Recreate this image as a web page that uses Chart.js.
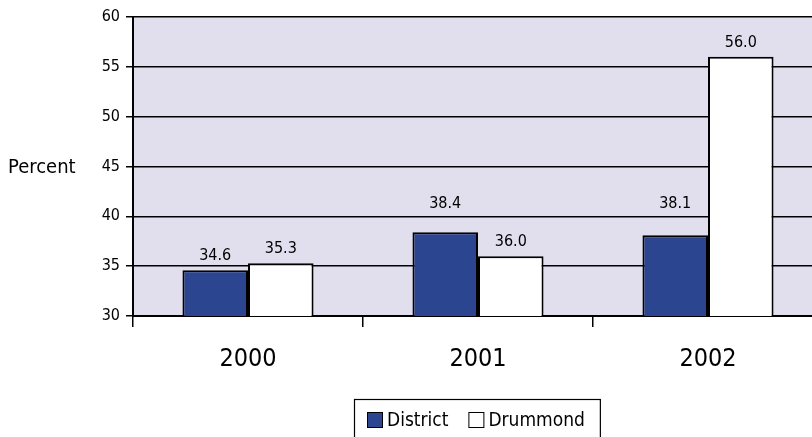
<!DOCTYPE html>
<html>
<head>
<meta charset="utf-8">
<script src="https://cdn.jsdelivr.net/npm/chart.js@4.4.1/dist/chart.umd.min.js"></script>
<style>
  html, body { margin: 0; padding: 0; background: #fff; overflow: hidden; }
  #wrap { width: 812px; height: 437px; overflow: hidden; position: relative; }
  canvas { display: block; }
</style>
</head>
<body>
<div id="wrap"><canvas id="chart" width="823" height="437"></canvas></div>
<script>
const years = ['2000', '2001', '2002'];
const district = [34.6, 38.4, 38.1];
const drummond = [35.3, 36.0, 56.0];
const seriesNames = ['District', 'Drummond'];
const yTicks = { min: 30, max: 60, step: 5 };

const FONT = "'Liberation Sans Narrow', 'DejaVu Sans Condensed', 'Arial Narrow', sans-serif";
const BLUE = '#2c4590';
const PLOT_BG = '#e1dfee';

// lavender fill behind the plot
const plotBg = {
    id: 'plotBg',
    beforeDraw(chart) {
        const { ctx, chartArea: a } = chart;
        ctx.save();
        ctx.fillStyle = PLOT_BG;
        ctx.fillRect(a.left, a.top, a.right - a.left, a.bottom - a.top);
        ctx.restore();
    }
};

// horizontal "Percent" title left of the axis
const yTitle = {
    id: 'yTitle',
    afterDraw(chart) {
        const { ctx, chartArea: a } = chart;
        ctx.save();
        ctx.font = '20px ' + FONT;
        ctx.fillStyle = '#000';
        ctx.textAlign = 'left';
        ctx.textBaseline = 'middle';
        ctx.fillText('Percent', 8, (a.top + a.bottom) / 2 + 1);
        ctx.restore();
    }
};

// value labels above bars, pushed above a gridline if they would sit on it
const valueLabels = {
    id: 'valueLabels',
    afterDatasetsDraw(chart) {
        const { ctx } = chart;
        const yScale = chart.scales.y;
        const gridYs = [];
        for (let v = yTicks.min; v <= yTicks.max; v += yTicks.step) gridYs.push(yScale.getPixelForValue(v));
        ctx.save();
        ctx.font = '16px ' + FONT;
        ctx.fillStyle = '#000';
        ctx.textAlign = 'center';
        ctx.textBaseline = 'middle';
        chart.data.datasets.forEach((ds, i) => {
            chart.getDatasetMeta(i).data.forEach((bar, j) => {
                let y = bar.y - 14;
                const hit = gridYs.find(g => g > y - 9 && g < y + 9);
                if (hit !== undefined) y = hit - 12;
                ctx.fillText(ds.data[j].toFixed(1), bar.x, y);
            });
        });
        ctx.restore();
    }
};

// boxed legend centred under the plot
const boxLegend = {
    id: 'boxLegend',
    afterDraw(chart) {
        const { ctx, chartArea: a } = chart;
        ctx.save();
        ctx.font = '19px ' + FONT;
        const sw = 16, padL = 13, padR = 15, gapTxt = 4, gapItem = 20;
        const items = chart.data.datasets.map(ds => ({
            label: ds.label, fill: ds.backgroundColor, w: ctx.measureText(ds.label).width
        }));
        let total = padL + padR;
        items.forEach((it, k) => { total += sw + gapTxt + it.w + (k ? gapItem : 0); });
        const left = Math.round((a.left + a.right) / 2 - total / 2) - 1;
        const top = 399.5;
        ctx.strokeStyle = '#000';
        ctx.lineWidth = 1.2;
        ctx.strokeRect(left + 0.5, top, total, 44);
        let x = left + padL;
        const cy = 420;
        items.forEach((it, k) => {
            if (k) x += gapItem;
            ctx.fillStyle = it.fill;
            ctx.fillRect(x, cy - 8, sw, sw);
            ctx.lineWidth = 1;
            ctx.strokeRect(x + 0.5, cy - 7.5, sw - 1, sw - 1);
            x += sw + gapTxt;
            ctx.fillStyle = '#000';
            ctx.textAlign = 'left';
            ctx.textBaseline = 'middle';
            ctx.fillText(it.label, x, cy + 1);
            x += it.w;
        });
        ctx.restore();
    }
};

new Chart(document.getElementById('chart'), {
    type: 'bar',
    data: {
        labels: years,
        datasets: [{
            label: seriesNames[0],
            data: district,
            backgroundColor: BLUE,
            borderColor: '#000',
            borderWidth: 2
        }, {
            label: seriesNames[1],
            data: drummond,
            backgroundColor: '#ffffff',
            borderColor: '#000',
            borderWidth: 2
        }]
    },
    options: {
        responsive: false,
        animation: false,
        categoryPercentage: 0.57,
        barPercentage: 1,
        layout: { padding: { top: 17, right: 0, bottom: 0, left: 0 } },
        plugins: {
            legend: { display: false },
            tooltip: { enabled: false },
            title: { display: false }
        },
        scales: {
            x: {
                grid: { display: true, drawOnChartArea: false, drawTicks: true, tickLength: 11, offset: true, color: '#000', lineWidth: 1.5 },
                border: { display: true, color: '#000', width: 2 },
                ticks: { color: '#000', font: { family: FONT, size: 25 }, padding: 17 },
                afterFit(s) { s.height = 121; }
            },
            y: {
                min: yTicks.min,
                max: yTicks.max,
                grid: { color: '#000', lineWidth: 1.5, tickLength: 7, drawTicks: true },
                border: { display: true, color: '#000', width: 2 },
                ticks: { stepSize: yTicks.step, color: '#000', font: { family: FONT, size: 16 }, padding: 6 },
                afterFit(s) { s.width = 133; }
            }
        }
    },
    plugins: [plotBg, yTitle, valueLabels, boxLegend]
});
</script>
</body>
</html>
